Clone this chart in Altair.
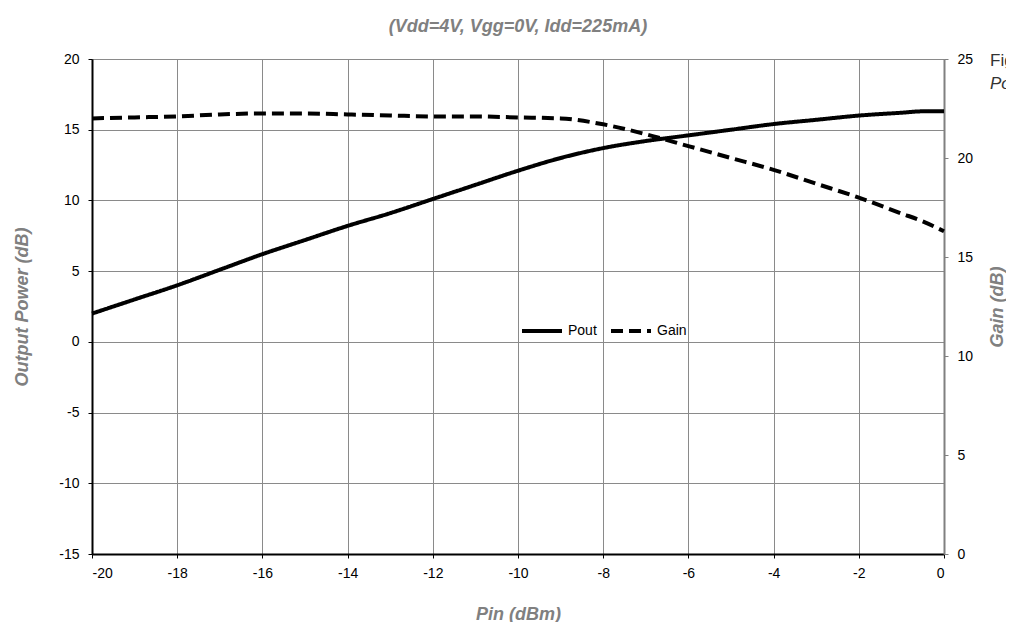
import altair as alt
import pandas as pd

# Data
pin = [-20, -19, -18, -17, -16, -15, -14, -13, -12, -11, -10, -9, -8, -7, -6, -5, -4, -3, -2, -1, -0.5, 0]
pout = [2.0, 3.0, 4.0, 5.1, 6.2, 7.2, 8.2, 9.1, 10.1, 11.1, 12.1, 13.0, 13.7, 14.2, 14.6, 15.0, 15.4, 15.7, 16.0, 16.2, 16.3, 16.3]
gain = [22.0, 22.05, 22.1, 22.2, 22.25, 22.25, 22.2, 22.15, 22.1, 22.1, 22.05, 22.0, 21.7, 21.2, 20.6, 20.0, 19.4, 18.7, 18.0, 17.2, 16.8, 16.3]

series_names = ["Pout", "Gain"]
x_ticks = [-20, -18, -16, -14, -12, -10, -8, -6, -4, -2, 0]
left_ticks = [-15, -10, -5, 0, 5, 10, 15, 20]
right_ticks = [0, 5, 10, 15, 20, 25]

rows = []
for p, v in zip(pin, pout):
    rows.append({"pin": p, "value": v, "series": "Pout"})
for p, v in zip(pin, gain):
    rows.append({"pin": p, "value": v, "series": "Gain"})
df = pd.DataFrame(rows)

W, H = 852, 495
FONT = "Liberation Sans"
TITLE_GRAY = "#808080"
HYPHEN_LABEL = "datum.value < 0 ? '-' + abs(datum.value) : '' + datum.value"

x_enc = alt.X(
    "pin:Q",
    scale=alt.Scale(domain=[-20, 0], nice=False),
    axis=alt.Axis(
        values=x_ticks, title="Pin (dBm)", grid=True, gridColor="#8a8a8a", gridWidth=1,
        domainColor="#000000", domainWidth=2, tickColor="#000000", tickSize=4,
        labelPadding=8, labelFontSize=14, labelColor="#000000", labelFont=FONT,
        labelExpr=HYPHEN_LABEL,
        titleFont=FONT, titleFontSize=18, titleFontStyle="italic", titleFontWeight="bold",
        titleColor=TITLE_GRAY, titleX=W / 2, titleY=60, titleBaseline="middle", titleAlign="center",
    ),
)

legend_def = alt.Legend(
    title=None, orient="none", legendX=428, legendY=250, direction="horizontal",
    symbolType="stroke", symbolSize=1600, symbolStrokeWidth=4,
    labelFontSize=14, labelFont=FONT, labelColor="#000000", labelOffset=4,
    columnPadding=6,
)

color_enc = alt.Color(
    "series:N",
    scale=alt.Scale(domain=series_names, range=["#000000", "#000000"]),
    legend=legend_def,
)
dash_enc = alt.StrokeDash(
    "series:N",
    scale=alt.Scale(domain=series_names, range=[[1, 0], [12, 6]]),
    legend=legend_def,
)

pout_line = alt.Chart(df).transform_filter(alt.datum.series == "Pout").mark_line(
    strokeWidth=4, interpolate="monotone"
).encode(
    x=x_enc,
    y=alt.Y(
        "value:Q",
        scale=alt.Scale(domain=[-15, 20], nice=False),
        axis=alt.Axis(
            values=left_ticks, title="Output Power (dB)", orient="left", grid=True,
            gridColor="#8a8a8a", gridWidth=1, domainColor="#000000", domainWidth=2,
            tickColor="#000000", tickSize=4, labelPadding=9, labelFontSize=14,
            labelColor="#000000", labelFont=FONT, labelExpr=HYPHEN_LABEL,
            titleFont=FONT, titleFontSize=18,
            titleFontStyle="italic", titleFontWeight="bold", titleColor=TITLE_GRAY,
            titleX=-70, titleY=H / 2, titleAngle=270, titleBaseline="middle", titleAlign="center",
        ),
    ),
    color=color_enc,
    strokeDash=dash_enc,
)

gain_line = alt.Chart(df).transform_filter(alt.datum.series == "Gain").mark_line(
    strokeWidth=4, interpolate="monotone"
).encode(
    x=alt.X("pin:Q", scale=alt.Scale(domain=[-20, 0], nice=False)),
    y=alt.Y(
        "value:Q",
        scale=alt.Scale(domain=[0, 25], nice=False),
        axis=alt.Axis(
            values=right_ticks, title="Gain (dB)", orient="right", grid=False,
            domainColor="#808080", domainWidth=2, tickColor="#808080", tickSize=4,
            labelPadding=9, labelFontSize=14, labelColor="#000000", labelFont=FONT,
            titleFont=FONT, titleFontSize=18, titleFontStyle="italic", titleFontWeight="bold",
            titleColor=TITLE_GRAY, titleX=53, titleY=H / 2, titleAngle=270,
            titleBaseline="middle", titleAlign="center",
        ),
    ),
    color=color_enc,
    strokeDash=dash_enc,
)

side_text = alt.Chart(pd.DataFrame({"t": ["Fig"]})).mark_text(
    align="left", baseline="middle", fontSize=17, font=FONT, color="#333333"
).encode(x=alt.value(898), y=alt.value(2), text="t:N")
side_text2 = alt.Chart(pd.DataFrame({"t": ["Po"]})).mark_text(
    align="left", baseline="middle", fontSize=17, font=FONT, fontStyle="italic", color="#333333"
).encode(x=alt.value(898), y=alt.value(25), text="t:N")

chart = alt.layer(pout_line, gain_line, side_text, side_text2).resolve_scale(
    y="independent", color="shared", strokeDash="shared"
).properties(
    width=W, height=H,
    title=alt.TitleParams(
        "(Vdd=4V, Vgg=0V, Idd=225mA)", font=FONT, fontSize=18, fontStyle="italic",
        fontWeight="bold", color=TITLE_GRAY, anchor="middle", offset=16,
    ),
    autosize=alt.AutoSizeParams(type="none"),
    padding={"left": 84, "top": 51, "right": 62, "bottom": 68},
).configure_view(
    fill="#C0C0C0", stroke="#808080", strokeWidth=1.5
).configure(background="#ffffff")

chart.save("out.html", embed_options={"renderer": "svg", "actions": False})
